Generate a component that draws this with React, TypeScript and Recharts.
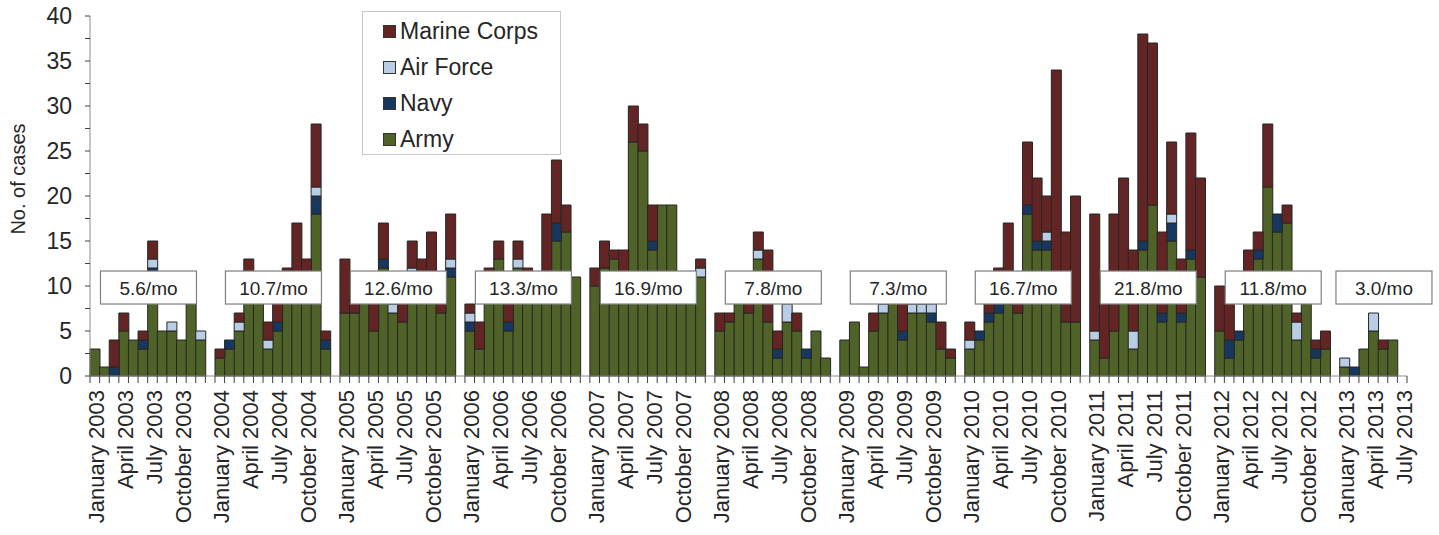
import { BarChart, Bar, XAxis, YAxis, Legend, ReferenceDot } from "recharts";

const FONT = "'Liberation Sans', Arial, sans-serif";
const TEXT = "#262626";

const MONTHS = [
  "January", "February", "March", "April", "May", "June",
  "July", "August", "September", "October", "November", "December",
];
const YEARS = [2003, 2004, 2005, 2006, 2007, 2008, 2009, 2010, 2011, 2012, 2013];
const RATES = [
  "5.6/mo", "10.7/mo", "12.6/mo", "13.3/mo", "16.9/mo", "7.8/mo",
  "7.3/mo", "16.7/mo", "21.8/mo", "11.8/mo", "3.0/mo",
];

// one row per year, Jan–Dec (2013: Jan–Jul)
const ARMY = [
  3, 1, 0, 5, 4, 3, 11, 5, 5, 4, 8, 4,
  2, 3, 5, 11, 10, 3, 5, 10, 10, 11, 18, 3,
  7, 7, 10, 5, 12, 7, 6, 11, 9, 10, 7, 11,
  5, 3, 11, 13, 5, 12, 11, 10, 11, 15, 16, 11,
  10, 12, 13, 11, 26, 25, 14, 19, 19, 10, 10, 11,
  5, 6, 10, 7, 13, 6, 2, 6, 5, 2, 5, 2,
  4, 6, 1, 5, 7, 11, 4, 7, 7, 6, 3, 2,
  3, 4, 6, 7, 8, 7, 18, 14, 14, 10, 6, 6,
  4, 2, 5, 9, 3, 14, 19, 6, 15, 6, 13, 11,
  5, 2, 4, 11, 13, 21, 16, 17, 4, 8, 2, 3,
  1, 0, 3, 5, 3, 4, 0,
];
const NAVY = [
  0, 0, 1, 0, 0, 1, 1, 0, 0, 0, 0, 0,
  0, 1, 0, 0, 0, 0, 1, 0, 0, 0, 2, 1,
  0, 0, 0, 0, 1, 0, 0, 0, 0, 0, 0, 1,
  1, 0, 0, 0, 1, 0, 0, 0, 0, 2, 0, 0,
  0, 0, 0, 0, 0, 0, 1, 0, 0, 0, 0, 0,
  0, 0, 0, 0, 0, 0, 1, 0, 0, 1, 0, 0,
  0, 0, 0, 0, 0, 0, 1, 0, 0, 1, 0, 0,
  0, 1, 1, 1, 0, 0, 1, 1, 1, 0, 0, 0,
  0, 0, 0, 0, 0, 1, 0, 1, 2, 1, 1, 0,
  0, 2, 1, 0, 1, 0, 2, 0, 0, 0, 1, 0,
  0, 1, 0, 0, 0, 0, 0,
];
const AIR_FORCE = [
  0, 0, 0, 0, 0, 0, 1, 0, 1, 0, 0, 1,
  0, 0, 1, 0, 0, 1, 0, 0, 0, 0, 1, 0,
  0, 0, 0, 0, 0, 1, 0, 1, 0, 0, 0, 1,
  1, 0, 0, 0, 0, 1, 0, 0, 0, 0, 0, 0,
  0, 0, 0, 0, 0, 0, 0, 0, 0, 0, 0, 1,
  0, 0, 0, 0, 1, 0, 0, 2, 0, 0, 0, 0,
  0, 0, 0, 0, 1, 0, 0, 1, 1, 1, 0, 0,
  1, 0, 0, 0, 0, 0, 0, 0, 1, 0, 0, 0,
  1, 0, 0, 0, 2, 0, 0, 0, 1, 0, 0, 0,
  0, 0, 0, 0, 0, 0, 0, 0, 2, 0, 0, 0,
  1, 0, 0, 2, 0, 0, 0,
];
const MARINE = [
  0, 0, 3, 2, 0, 1, 2, 0, 0, 0, 0, 0,
  1, 0, 1, 2, 0, 2, 4, 2, 7, 2, 7, 1,
  6, 2, 0, 5, 4, 2, 4, 3, 4, 6, 3, 5,
  1, 3, 1, 2, 4, 2, 1, 0, 7, 7, 3, 0,
  2, 3, 1, 3, 4, 3, 4, 0, 0, 0, 0, 1,
  2, 1, 0, 3, 2, 8, 2, 0, 2, 0, 0, 0,
  0, 0, 0, 2, 3, 0, 6, 2, 2, 0, 3, 1,
  2, 0, 4, 4, 9, 4, 7, 7, 4, 24, 10, 14,
  13, 9, 13, 13, 9, 23, 18, 9, 8, 6, 13, 11,
  5, 4, 0, 3, 2, 7, 0, 2, 1, 0, 1, 2,
  0, 0, 0, 0, 1, 0, 0,
];

const COLORS = {
  army: "#4f6228",
  navy: "#17375e",
  airForce: "#b9cde5",
  marine: "#632523",
};

const LEGEND_ITEMS = [
  { name: "Marine Corps", color: COLORS.marine },
  { name: "Air Force", color: COLORS.airForce },
  { name: "Navy", color: COLORS.navy },
  { name: "Army", color: COLORS.army },
];

type Row = {
  key: string;
  label: string;
  army?: number;
  navy?: number;
  airForce?: number;
  marine?: number;
};

const data: Row[] = [];
let idx = 0;
YEARS.forEach((year) => {
  const count = year === 2013 ? 7 : 12;
  for (let m = 0; m < count; m++) {
    data.push({
      key: `${year}-${m + 1}`,
      label: m % 3 === 0 ? `${MONTHS[m]} ${year}` : "",
      army: ARMY[idx],
      navy: NAVY[idx],
      airForce: AIR_FORCE[idx],
      marine: MARINE[idx],
    });
    idx++;
  }
  if (year !== 2013) data.push({ key: `gap-${year}`, label: "" });
});

const labelByKey = new Map(data.map((d) => [d.key, d.label]));
const lastKey = data[data.length - 1].key;

const WIDTH = 1439;
const HEIGHT = 535;
const MARGIN = { top: 16, right: 32, bottom: 0, left: 0 };
const Y_AXIS_W = 90;
const BAND = (WIDTH - MARGIN.left - MARGIN.right - Y_AXIS_W) / data.length;

const Y_TICKS = [0, 2.5, 5, 7.5, 10, 12.5, 15, 17.5, 20, 22.5, 25, 27.5, 30, 32.5, 35, 37.5, 40];

function MonthTick(props: any) {
  const { x, y, payload } = props;
  const label = labelByKey.get(payload.value) || "";
  const left = x - BAND / 2;
  const ty = y + 14;
  return (
    <g>
      <line x1={left} x2={left} y1={y} y2={y + 7} stroke="#404040" />
      {payload.value === lastKey && (
        <line x1={x + BAND / 2} x2={x + BAND / 2} y1={y} y2={y + 7} stroke="#404040" />
      )}
      {label && (
        <text
          x={x + 2}
          y={ty}
          transform={`rotate(-90 ${x + 2} ${ty})`}
          textAnchor="end"
          dominantBaseline="central"
          fontSize={22}
          fill={TEXT}
          fontFamily={FONT}
        >
          {label}
        </text>
      )}
    </g>
  );
}

function RateBox({ cx, cy, text }: { cx: number; cy: number; text: string }) {
  return (
    <g>
      <rect x={cx - 48} y={cy - 16.5} width={96} height={33} fill="#fff" stroke="#7f7f7f" strokeWidth={1.2} />
      <text x={cx} y={cy + 1} textAnchor="middle" dominantBaseline="central" fontSize={19} fill={TEXT} fontFamily={FONT}>
        {text}
      </text>
    </g>
  );
}

function LegendBox() {
  return (
    <div
      style={{
        width: 197,
        height: 142,
        border: "1px solid #c8c8c8",
        background: "#fff",
        position: "relative",
        fontFamily: FONT,
      }}
    >
      {LEGEND_ITEMS.map((item, k) => (
        <div
          key={item.name}
          style={{
            position: "absolute",
            left: 20,
            top: 5 + k * 36,
            height: 28,
            display: "flex",
            alignItems: "center",
          }}
        >
          <span
            style={{
              width: 13,
              height: 13,
              background: item.color,
              border: "1px solid #333",
              boxSizing: "border-box",
              marginRight: 4,
            }}
          />
          <span style={{ fontSize: 23, color: TEXT, lineHeight: "28px" }}>{item.name}</span>
        </div>
      ))}
    </div>
  );
}

export default function App() {
  return (
    <div style={{ width: WIDTH, height: HEIGHT, fontFamily: FONT, background: "#fff" }}>
      <style>{"body{margin:0}"}</style>
      <BarChart
        width={WIDTH}
        height={HEIGHT}
        data={data}
        margin={MARGIN}
        barCategoryGap={0}
        barGap={0}
      >
        <XAxis
          dataKey="key"
          interval={0}
          tickLine={false}
          tickSize={0}
          tickMargin={0}
          height={159}
          axisLine={{ stroke: "#8c8c8c" }}
          tick={<MonthTick />}
        />
        <YAxis
          domain={[0, 40]}
          ticks={Y_TICKS}
          interval={0}
          width={Y_AXIS_W}
          tickSize={5}
          tickMargin={13}
          tickFormatter={(v: number) => (v % 5 === 0 ? String(v) : "")}
          tick={{ fontSize: 23, fill: TEXT }}
          axisLine={{ stroke: "#8c8c8c" }}
          tickLine={{ stroke: "#404040" }}
          label={{
            value: "No. of cases",
            angle: -90,
            position: "center",
            dx: -27,
            dy: -17,
            fontSize: 20,
            fill: TEXT,
          }}
        />
        <Legend
          layout="vertical"
          align="center"
          verticalAlign="middle"
          wrapperStyle={{ left: 362, top: 11, width: 199 }}
          content={() => <LegendBox />}
        />
        <Bar dataKey="army" name="Army" stackId="a" fill={COLORS.army} stroke="#262626" strokeWidth={1} isAnimationActive={false} />
        <Bar dataKey="navy" name="Navy" stackId="a" fill={COLORS.navy} stroke="#262626" strokeWidth={1} isAnimationActive={false} />
        <Bar dataKey="airForce" name="Air Force" stackId="a" fill={COLORS.airForce} stroke="#262626" strokeWidth={1} isAnimationActive={false} />
        <Bar dataKey="marine" name="Marine Corps" stackId="a" fill={COLORS.marine} stroke="#262626" strokeWidth={1} isAnimationActive={false} />
        {YEARS.map((year, k) => (
          <ReferenceDot
            key={year}
            x={year === 2013 ? `${year}-5` : `${year}-7`}
            y={9.83}
            r={0}
            shape={(p: any) => <RateBox cx={p.cx + (year === 2013 ? 1 : -4)} cy={p.cy} text={RATES[k]} />}
          />
        ))}
      </BarChart>
    </div>
  );
}
